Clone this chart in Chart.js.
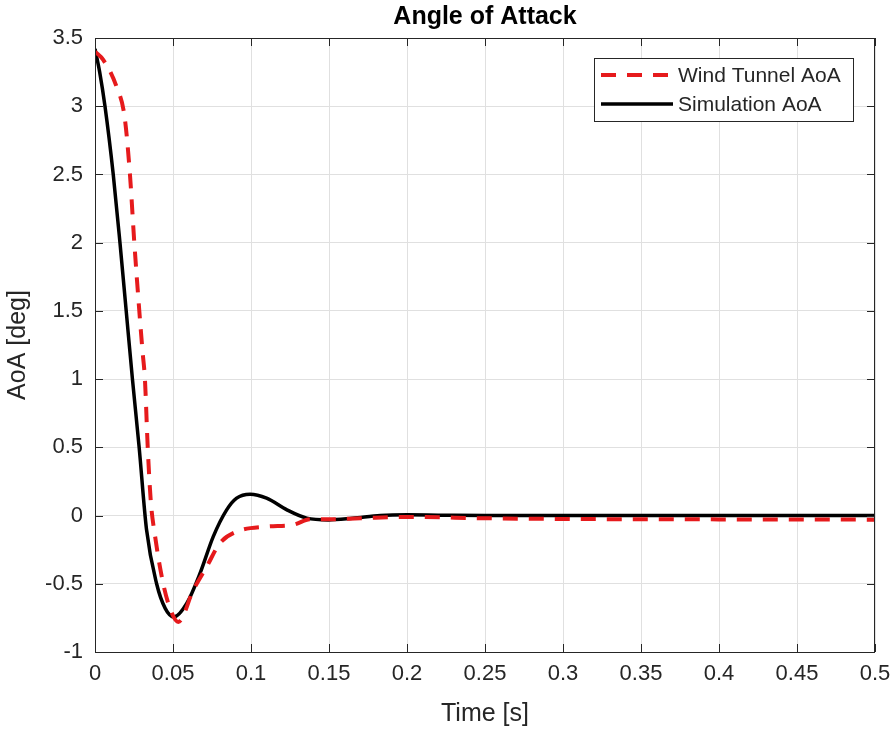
<!DOCTYPE html>
<html>
<head>
<meta charset="utf-8">
<script src="https://cdn.jsdelivr.net/npm/chart.js@4.4.1/dist/chart.umd.min.js"></script>
<style>
  html, body { margin: 0; padding: 0; background: #fff; }
  #wrap { width: 893px; height: 733px; }
</style>
</head>
<body>
<div id="wrap"><canvas id="chart" width="893" height="733"></canvas></div>
<script>
// Data
const windTime = [0, 0.0053, 0.0139, 0.019, 0.0224, 0.0252, 0.0284, 0.0305, 0.032, 0.0338, 0.0358, 0.0385, 0.0428, 0.047, 0.0534, 0.063, 0.0716, 0.080, 0.0908, 0.110, 0.127, 0.138, 0.150, 0.17, 0.2, 0.25, 0.3, 0.4, 0.5];
const windAoA = [3.40, 3.34, 3.14, 2.92, 2.5, 2.0, 1.5, 1.2, 1.0, 0.5, 0.1, -0.15, -0.448, -0.644, -0.78, -0.546, -0.375, -0.203, -0.118, -0.081, -0.068, -0.027, -0.027, -0.02, -0.01, -0.02, -0.025, -0.028, -0.03];

const simTime = [0, 0.003, 0.0064, 0.0117, 0.016, 0.020, 0.024, 0.0283, 0.033, 0.0395, 0.045, 0.0506, 0.0588, 0.0673, 0.0758, 0.0844, 0.0908, 0.0994, 0.110, 0.123, 0.1357, 0.1496, 0.165, 0.183, 0.2, 0.22, 0.25, 0.3, 0.4, 0.5];
const simAoA = [3.42, 3.25, 3.0, 2.5, 2.0, 1.5, 1.0, 0.5, -0.1, -0.5, -0.68, -0.743, -0.644, -0.424, -0.154, 0.042, 0.128, 0.157, 0.128, 0.042, -0.019, -0.032, -0.02, 0, 0.005, 0.003, 0, 0, 0, 0];

const xTicks = [0, 0.05, 0.1, 0.15, 0.2, 0.25, 0.3, 0.35, 0.4, 0.45, 0.5];
const yTicks = [-1, -0.5, 0, 0.5, 1, 1.5, 2, 2.5, 3, 3.5];

const chartTitle = 'Angle of Attack';
const FONT = 'Liberation Sans, Arial, Helvetica, sans-serif';

function toPoints(xs, ys) {
  return xs.map((x, i) => ({ x: x, y: ys[i] }));
}

// Box, inward ticks, title and legend drawn MATLAB style
const matlabFrame = {
  id: 'matlabFrame',
  afterDatasetsDraw(chart) {
    const ctx = chart.ctx;
    const a = chart.chartArea;
    const xs = chart.scales.x;
    const ys = chart.scales.y;
    ctx.save();
    ctx.strokeStyle = '#262626';
    ctx.lineWidth = 1;
    ctx.strokeRect(a.left + 0.5, a.top + 0.5, a.right - a.left - 1, a.bottom - a.top);
    ctx.beginPath();
    xTicks.forEach(v => {
      const px = Math.round(xs.getPixelForValue(v)) + 0.5;
      ctx.moveTo(px, a.bottom); ctx.lineTo(px, a.bottom - 8);
      ctx.moveTo(px, a.top); ctx.lineTo(px, a.top + 8);
    });
    yTicks.forEach(v => {
      const py = Math.round(ys.getPixelForValue(v)) + 0.5;
      ctx.moveTo(a.left, py); ctx.lineTo(a.left + 8, py);
      ctx.moveTo(a.right, py); ctx.lineTo(a.right - 8, py);
    });
    ctx.stroke();

    // title, centred over the axes
    ctx.fillStyle = '#000';
    ctx.font = 'bold 25px ' + FONT;
    ctx.textAlign = 'center';
    ctx.textBaseline = 'middle';
    ctx.fillText(chartTitle, (a.left + a.right) / 2, 17);

    // legend
    const w = 259, h = 63;
    const lx = a.right - 22 - w, ly = a.top + 20;
    ctx.fillStyle = '#fff';
    ctx.fillRect(lx, ly, w, h);
    ctx.strokeStyle = '#262626';
    ctx.strokeRect(lx + 0.5, ly + 0.5, w, h);
    ctx.font = '21px ' + FONT;
    ctx.textAlign = 'left';
    chart.data.datasets.forEach((ds, i) => {
      const rowY = ly + 17 + i * 29;
      ctx.beginPath();
      ctx.strokeStyle = ds.borderColor;
      ctx.lineWidth = ds.borderWidth;
      ctx.setLineDash(ds.borderDash || []);
      ctx.moveTo(lx + 7, rowY);
      ctx.lineTo(lx + 79, rowY);
      ctx.stroke();
      ctx.setLineDash([]);
      ctx.fillStyle = '#262626';
      ctx.fillText(ds.label, lx + 84, rowY + 1);
    });
    ctx.restore();
  }
};

new Chart(document.getElementById('chart'), {
  type: 'line',
  data: {
    datasets: [
      {
        label: 'Wind Tunnel AoA',
        data: toPoints(windTime, windAoA),
        borderColor: '#e61a1c',
        borderWidth: 4,
        borderDash: [15, 11],
        pointRadius: 0,
        cubicInterpolationMode: 'monotone',
        fill: false
      },
      {
        label: 'Simulation AoA',
        data: toPoints(simTime, simAoA),
        borderColor: '#000000',
        borderWidth: 3.5,
        pointRadius: 0,
        cubicInterpolationMode: 'monotone',
        fill: false
      }
    ]
  },
  options: {
    responsive: false,
    animation: false,
    layout: { padding: { right: 18, top: 38, left: 0, bottom: 0 } },
    plugins: {
      legend: { display: false },
      tooltip: { enabled: false },
      title: { display: false }
    },
    scales: {
      x: {
        type: 'linear',
        min: 0,
        max: 0.5,
        afterBuildTicks: s => { s.ticks = xTicks.map(v => ({ value: v })); },
        afterFit: s => { s.height = 81; s.paddingLeft = 0; s.paddingRight = 0; },
        ticks: {
          color: '#262626',
          font: { family: FONT, size: 22 },
          padding: 9,
          maxRotation: 0,
          callback: v => String(+v.toFixed(2))
        },
        grid: { color: '#e0e0e0', drawTicks: false },
        border: { display: false },
        title: {
          display: true,
          text: 'Time [s]',
          color: '#262626',
          font: { family: FONT, size: 25 },
          padding: { top: 3 }
        }
      },
      y: {
        min: -1,
        max: 3.5,
        afterBuildTicks: s => { s.ticks = yTicks.map(v => ({ value: v })); },
        afterFit: s => { s.width = 95; s.paddingTop = 0; s.paddingBottom = 0; },
        ticks: {
          color: '#262626',
          font: { family: FONT, size: 22 },
          padding: 12,
          callback: v => String(+v.toFixed(1))
        },
        grid: { color: '#e0e0e0', drawTicks: false },
        border: { display: false },
        title: {
          display: true,
          text: 'AoA [deg]',
          color: '#262626',
          font: { family: FONT, size: 25 },
          padding: { top: 3, bottom: 0 }
        }
      }
    }
  },
  plugins: [matlabFrame]
});
</script>
</body>
</html>
